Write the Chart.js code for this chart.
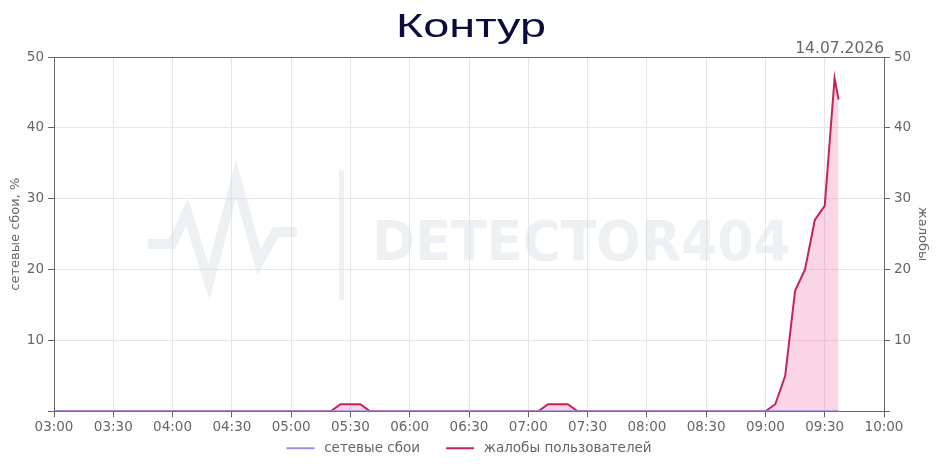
<!DOCTYPE html>
<html>
<head>
<meta charset="utf-8">
<script src="https://cdn.jsdelivr.net/npm/chart.js@4.4.1/dist/chart.umd.min.js"></script>
<style>
html,body{margin:0;padding:0;background:#fff;}
#wrap{width:938px;height:468px;}
</style>
</head>
<body>
<div id="wrap"><canvas id="c"></canvas></div>
<script>
const chartTitle = "Контур";
const chartDate = "14.07.2026";
const seriesNames = ["сетевые сбои", "жалобы пользователей"];
const axisTitles = ["сетевые сбои, %", "жалобы"];
const xTickLabels = ["03:00","03:30","04:00","04:30","05:00","05:30","06:00","06:30","07:00","07:30","08:00","08:30","09:00","09:30","10:00"];
const yTickValues = [10, 20, 30, 40, 50];

const times = [
 "03:00","03:05","03:10","03:15","03:20","03:25","03:30","03:35","03:40","03:45","03:50","03:55",
 "04:00","04:05","04:10","04:15","04:20","04:25","04:30","04:35","04:40","04:45","04:50","04:55",
 "05:00","05:05","05:10","05:15","05:20","05:25","05:30","05:35","05:40","05:45","05:50","05:55",
 "06:00","06:05","06:10","06:15","06:20","06:25","06:30","06:35","06:40","06:45","06:50","06:55",
 "07:00","07:05","07:10","07:15","07:20","07:25","07:30","07:35","07:40","07:45","07:50","07:55",
 "08:00","08:05","08:10","08:15","08:20","08:25","08:30","08:35","08:40","08:45","08:50","08:55",
 "09:00","09:05","09:10","09:15","09:20","09:25","09:30","09:35","09:37"
];
const outages = [
 0,0,0,0,0,0,0,0,0,0,0,0,
 0,0,0,0,0,0,0,0,0,0,0,0,
 0,0,0,0,0,0,0,0,0,0,0,0,
 0,0,0,0,0,0,0,0,0,0,0,0,
 0,0,0,0,0,0,0,0,0,0,0,0,
 0,0,0,0,0,0,0,0,0,0,0,0,
 0,0,0,0,0,0,0,0,0
];
const complaints = [
 0,0,0,0,0,0,0,0,0,0,0,0,
 0,0,0,0,0,0,0,0,0,0,0,0,
 0,0,0,0,0,1,1,1,0,0,0,0,
 0,0,0,0,0,0,0,0,0,0,0,0,
 0,0,1,1,1,0,0,0,0,0,0,0,
 0,0,0,0,0,0,0,0,0,0,0,0,
 0,1,5,17,20,27,29,47,44
];

const START = "03:00";
function toMin(t){ const [h,m]=t.split(":").map(Number); const [h0,m0]=START.split(":").map(Number); return (h*60+m)-(h0*60+m0); }
const xs = times.map(toMin);
const xMax = toMin(xTickLabels[xTickLabels.length-1]);

const FONT = "'DejaVu Sans', sans-serif";
const GREY = "#666666";
const C_OUT = '#9b8ce6';
const C_CMP = '#c8215d';

// legend swatch canvases: blank lead-in (acts as item spacing), then a 28px line
const SW_LEAD = 22, SW_LINE = 28, SW_W = 53;
function legendLine(color){
  const c = document.createElement('canvas');
  c.width = SW_W; c.height = 4;
  const g = c.getContext('2d');
  g.strokeStyle = color; g.lineWidth = 2;
  g.beginPath(); g.moveTo(SW_LEAD, 2); g.lineTo(SW_LEAD + SW_LINE, 2); g.stroke();
  return c;
}

const decor = {
  id: 'decor',
  afterLayout(chart){
    // recentre the legend row, ignoring the first item's blank lead-in
    const lg = chart.legend;
    if (lg && lg.lineWidths && lg.lineWidths.length) lg.lineWidths[0] += SW_LEAD;
  },
  beforeDatasetsDraw(chart){
    const {ctx, chartArea:a} = chart;
    ctx.save();
    ctx.strokeStyle = 'rgba(214,221,229,0.42)';
    ctx.fillStyle = 'rgba(214,221,229,0.42)';
    ctx.lineWidth = 10;
    const ox = a.left, oy = a.top;
    ctx.beginPath();
    ctx.moveTo(ox+94, oy+187);
    ctx.lineTo(ox+118, oy+187);
    ctx.lineTo(ox+133, oy+155);
    ctx.lineTo(ox+155, oy+225);
    ctx.lineTo(ox+182, oy+122);
    ctx.lineTo(ox+205, oy+205);
    ctx.lineTo(ox+222, oy+175);
    ctx.lineTo(ox+243, oy+175);
    ctx.stroke();
    ctx.fillRect(ox+285, oy+113, 5, 130);
    ctx.font = "bold 55px 'DejaVu Sans Condensed','DejaVu Sans', sans-serif";
    ctx.textBaseline = 'alphabetic';
    const txt = "DETECTOR404";
    const w = ctx.measureText(txt).width;
    ctx.translate(ox+318, oy+203);
    ctx.scale(418/w, 1);
    ctx.fillText(txt, 0, 0);
    ctx.restore();
  },
  afterDraw(chart){
    const {ctx, chartArea:a} = chart;
    ctx.save();
    ctx.strokeStyle = GREY;
    ctx.lineWidth = 1;
    ctx.beginPath();
    ctx.moveTo(a.left, a.top+0.5);
    ctx.lineTo(a.right, a.top+0.5);
    ctx.stroke();
    ctx.font = "34px 'Liberation Sans', Arial, sans-serif";
    ctx.fillStyle = '#0b0c3e';
    ctx.textBaseline = 'alphabetic';
    const tw = ctx.measureText(chartTitle).width;
    ctx.save();
    ctx.translate(chart.width/2 + 2 - 75, 36.5);
    ctx.scale(150/tw, 1);
    ctx.textAlign = 'left';
    ctx.fillText(chartTitle, 0, 0);
    ctx.restore();
    ctx.font = "15.5px " + FONT;
    ctx.fillStyle = GREY;
    ctx.textAlign = 'right';
    ctx.fillText(chartDate, a.right, a.top - 4);
    ctx.restore();
  }
};

new Chart(document.getElementById('c'), {
  type: 'line',
  data: {
    datasets: [
      {
        label: seriesNames[0],
        data: xs.map((x,i)=>({x, y: outages[i]})),
        yAxisID: 'y',
        borderColor: C_OUT,
        backgroundColor: C_OUT,
        borderWidth: 2,
        pointRadius: 0,
        pointStyle: legendLine(C_OUT),
        fill: false,
        tension: 0,
        order: 0
      },
      {
        label: seriesNames[1],
        data: xs.map((x,i)=>({x, y: complaints[i]})),
        yAxisID: 'y1',
        borderColor: C_CMP,
        backgroundColor: 'rgba(234,92,158,0.26)',
        borderWidth: 2,
        pointRadius: 0,
        pointStyle: legendLine(C_CMP),
        fill: 'origin',
        tension: 0,
        order: 1
      }
    ]
  },
  options: {
    responsive: true,
    maintainAspectRatio: false,
    animation: false,
    devicePixelRatio: 1,
    layout: { padding: { top: 57, bottom: 3, left: 0, right: 0 } },
    plugins: {
      title: { display: false },
      legend: {
        position: 'bottom',
        labels: {
          color: GREY,
          font: { family: FONT, size: 13.5 },
          usePointStyle: true,
          pointStyleWidth: SW_W,
          padding: 4
        }
      },
      tooltip: { enabled: false }
    },
    scales: {
      x: {
        type: 'linear',
        min: 0,
        max: xMax,
        ticks: {
          stepSize: 30,
          color: GREY,
          font: { family: FONT, size: 13.5 },
          maxRotation: 0,
          padding: 2,
          callback: (v) => xTickLabels[Math.round(v/30)] ?? ''
        },
        grid: { color: '#e6e6e6', tickColor: GREY, tickLength: 6 },
        border: { color: GREY }
      },
      y: {
        position: 'left',
        min: 0, max: 50,
        ticks: {
          stepSize: 10,
          color: GREY,
          font: { family: FONT, size: 13.5 },
          padding: 4,
          callback: (v) => yTickValues.includes(v) ? String(v) : ''
        },
        title: { display: true, text: axisTitles[0], color: GREY, font: { family: FONT, size: 13 }, padding: 8 },
        grid: { color: '#e6e6e6', tickColor: GREY, tickLength: 6 },
        border: { color: GREY },
        afterFit(s){ s.width = 54; }
      },
      y1: {
        position: 'right',
        min: 0, max: 50,
        ticks: {
          stepSize: 10,
          color: GREY,
          font: { family: FONT, size: 13.5 },
          padding: 4,
          callback: (v) => yTickValues.includes(v) ? String(v) : ''
        },
        title: { display: true, text: axisTitles[1], color: GREY, font: { family: FONT, size: 13 }, padding: 8 },
        grid: { drawOnChartArea: false, tickColor: GREY, tickLength: 6 },
        border: { color: GREY },
        afterFit(s){ s.width = 54; }
      }
    }
  },
  plugins: [decor]
});
</script>
</body>
</html>
